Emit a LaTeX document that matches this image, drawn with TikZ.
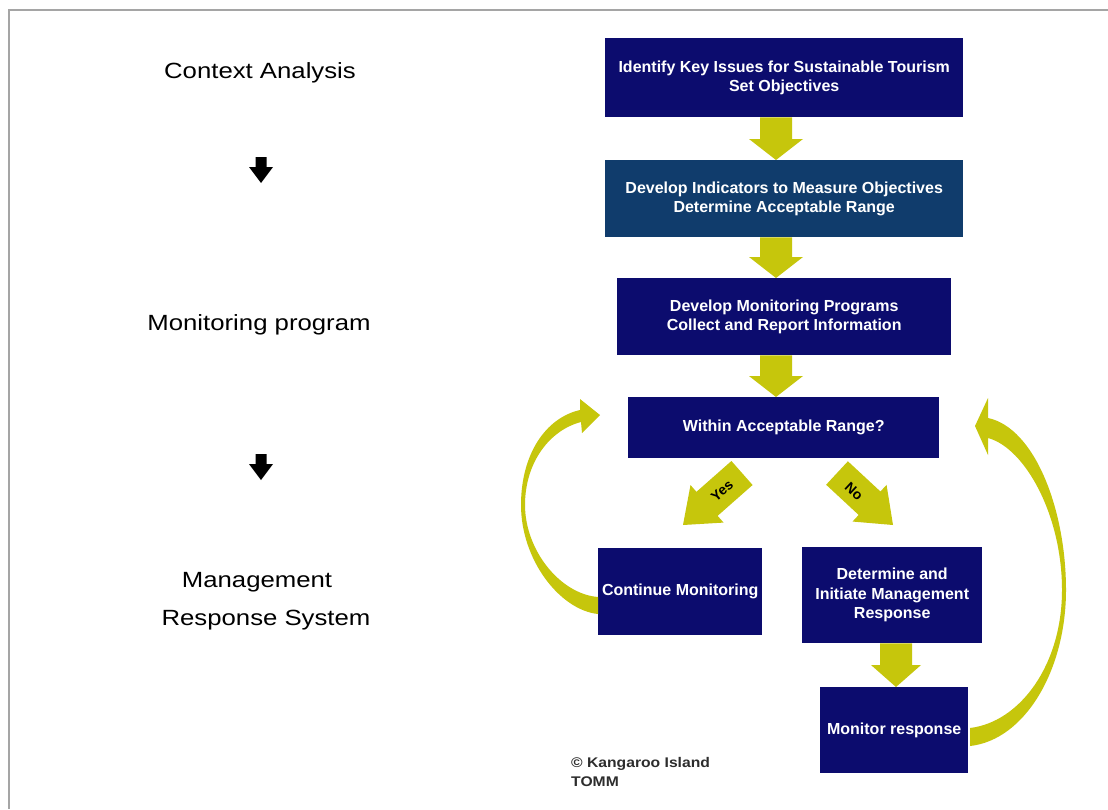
\documentclass[tikz,border=0pt]{standalone}
\usepackage{fontspec}
\setmainfont{Liberation Sans}
\newfontfamily\labfont[FakeStretch=1.17]{Liberation Sans}
\newfontfamily\cpfont[FakeStretch=1.12]{Liberation Sans}
\usetikzlibrary{calc}
\definecolor{navy}{RGB}{12,12,110}
\definecolor{steel}{RGB}{16,60,108}
\definecolor{yarrow}{RGB}{198,198,12}
\definecolor{framegray}{RGB}{165,165,165}
\definecolor{cpgray}{RGB}{45,45,45}
% block arrow: start, end, shaft half width, head half width, head length
\newcommand\barrow[5]{%
  \fill[yarrow] let \p1=(#1), \p2=(#2),
     \n1={atan2(\y2-\y1,\x2-\x1)}, \n2={veclen(\x2-\x1,\y2-\y1)-#5} in
    ($(\p1)+(\n1+90:#3)$) -- ($(\p1)+(\n1:\n2)+(\n1+90:#3)$) --
    ($(\p1)+(\n1:\n2)+(\n1+90:#4)$) -- (\p2) --
    ($(\p1)+(\n1:\n2)+(\n1-90:#4)$) -- ($(\p1)+(\n1:\n2)+(\n1-90:#3)$) --
    ($(\p1)+(\n1-90:#3)$) -- cycle;}
\begin{document}
\begin{tikzpicture}[x=1pt,y=1pt,
  box/.style={fill=navy, text=white, font=\bfseries\fontsize{16}{19.5}\selectfont,
    align=center, anchor=north west, inner sep=0pt},
  lab/.style={font=\labfont\fontsize{22}{26}\selectfont, anchor=base, inner sep=0pt},
  yn/.style={font=\bfseries\fontsize{14}{16}\selectfont, text=black, inner sep=0pt},
  cp/.style={font=\cpfont\bfseries\fontsize{14}{16}\selectfont, text=cpgray, anchor=base west, inner sep=0pt}]
\useasboundingbox (0,0) rectangle (1108,-809);
\fill[white] (0,0) rectangle (1108,-809);
\draw[framegray, line width=2pt] (1108,-10) -- (9,-10) -- (9,-809);

% left labels
\node[lab] (l1) at (260,-78) {Context Analysis};
\node[lab] (l2) at (259,-330) {Monitoring program};
\node[lab] (l3) at (257,-587) {Management};
\node[lab] (l4) at (266,-625) {Response System};
\foreach \dy in {0,-297}{
  \fill[black] (255.5,-157+\dy) -- (266.5,-157+\dy) -- (266.5,-167+\dy) -- (273,-167+\dy)
    -- (261,-183+\dy) -- (249,-167+\dy) -- (255.5,-167+\dy) -- cycle;
}

% boxes
\node[box, minimum width=358pt, minimum height=79pt] (b1) at (605,-38)
  {Identify Key Issues for Sustainable Tourism\\Set Objectives};
\node[box, fill=steel, minimum width=358pt, minimum height=77pt] (b2) at (605,-160)
  {Develop Indicators to Measure Objectives\\Determine Acceptable Range};
\node[box, minimum width=334pt, minimum height=77pt] (b3) at (617,-278)
  {Develop Monitoring Programs\\Collect and Report Information};
\node[box, minimum width=311pt, minimum height=61pt] (b4) at (628,-397)
  {Within Acceptable Range?};
\node[box, minimum width=164pt, minimum height=87pt] (b5) at (598,-548)
  {Continue Monitoring};
\node[box, minimum width=180pt, minimum height=96pt] (b6) at (802,-547)
  {Determine and\\Initiate Management\\Response};
\node[box, minimum width=148pt, minimum height=86pt] (b7) at (820,-687)
  {Monitor response};

% straight block arrows
\coordinate (ax) at (776,0);
\coordinate (bx) at (896,0);
\barrow{b1.south -| ax}{b2.north -| ax}{16}{27}{21}
\barrow{b2.south -| ax}{b3.north -| ax}{16}{27}{21}
\barrow{b3.south -| ax}{b4.north -| ax}{16}{27}{21}
\barrow{b6.south -| bx}{b7.north -| bx}{16}{25}{22}
\coordinate (yt) at (742,-473);
\coordinate (yh) at (683,-525);
\coordinate (nt) at (837,-473);
\coordinate (nh) at (893,-525);
\barrow{yt}{yh}{16}{25}{32}
\barrow{nt}{nh}{16}{25}{32}
\node[yn, rotate=41] (yes) at (722,-491) {Yes};
\node[yn, rotate=-43] (no) at (854,-491) {No};

% curved return arrows
\fill[yarrow] (598,-614) .. controls (560,-610) and (521,-560) .. (521,-505)
  .. controls (521,-455) and (545,-418) .. (580,-410) -- (580,-399) -- (600,-415)
  -- (582,-433) -- (581,-422) .. controls (550,-430) and (525,-462) .. (525,-505)
  .. controls (525,-550) and (560,-594) .. (598,-597) -- cycle;
\fill[yarrow] (970,-746) .. controls (1025,-740) and (1066,-670) .. (1066,-590)
  .. controls (1066,-510) and (1035,-428) .. (988,-418) -- (988,-398) -- (975,-426)
  -- (988,-455) -- (988,-438) .. controls (1025,-448) and (1062,-515) .. (1062,-590)
  .. controls (1062,-665) and (1020,-722) .. (970,-728) -- cycle;

% copyright
\node[cp] (c1) at (571,-767) {© Kangaroo Island};
\node[cp] (c2) at (571,-786) {TOMM};
\end{tikzpicture}
\end{document}
